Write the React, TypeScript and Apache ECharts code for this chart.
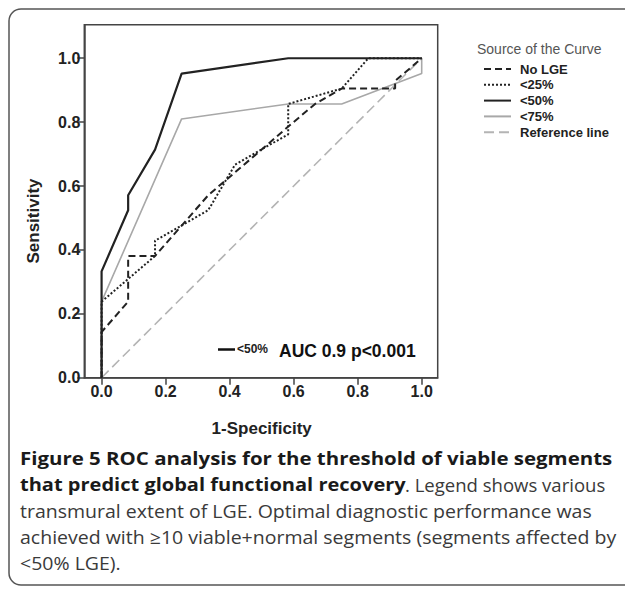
import React, { useEffect, useRef } from "react";
import * as echarts from "echarts";

// ROC data (1-Specificity, Sensitivity)
const noLgeFpr = [0, 0, 0.083, 0.083, 0.167, 0.333, 0.5, 0.583, 0.667, 0.75, 0.917, 0.917, 1];
const noLgeTpr = [0, 0.143, 0.238, 0.381, 0.381, 0.571, 0.714, 0.786, 0.857, 0.905, 0.905, 0.929, 1];

const lt25Fpr = [0, 0, 0.167, 0.167, 0.333, 0.417, 0.583, 0.583, 0.75, 0.833, 1];
const lt25Tpr = [0, 0.238, 0.381, 0.429, 0.524, 0.667, 0.762, 0.857, 0.905, 1, 1];

const lt50Fpr = [0, 0, 0.083, 0.083, 0.167, 0.25, 0.583, 1];
const lt50Tpr = [0, 0.333, 0.524, 0.571, 0.714, 0.952, 1, 1];

const lt75Fpr = [0, 0, 0.25, 0.583, 0.75, 1, 1];
const lt75Tpr = [0, 0.238, 0.81, 0.857, 0.857, 0.952, 1];

const refFpr = [0, 1];
const refTpr = [0, 1];

const tickValues = [0, 0.2, 0.4, 0.6, 0.8, 1.0];

const seriesNames = ["No LGE", "<25%", "<50%", "<75%", "Reference line"];

const zip = (xs: number[], ys: number[]) => xs.map((x, i) => [x, ys[i]]);

const SANS = '"Liberation Sans", Arial, sans-serif';
const CAP = '"Open Sans", "Noto Sans", sans-serif';

const captionParts: { x: number; y: number; bold: boolean; sx: number; text: string }[] = [
  { x: 20, y: 458, bold: true, sx: 1.136, text: "Figure 5 ROC analysis for the threshold of viable segments" },
  { x: 20, y: 484.5, bold: true, sx: 1.113, text: "that predict global functional recovery" },
  { x: 405, y: 484.5, bold: false, sx: 1.03, text: ". Legend shows various" },
  { x: 20, y: 511, bold: false, sx: 1.084, text: "transmural extent of LGE. Optimal diagnostic performance was" },
  { x: 20, y: 537, bold: false, sx: 1.084, text: "achieved with \u226510 viable+normal segments (segments affected by" },
  { x: 20, y: 563, bold: false, sx: 1.084, text: "<50% LGE)." },
];

export default function App() {
  const ref = useRef<HTMLDivElement>(null);
  useEffect(() => {
    const chart = echarts.init(ref.current as HTMLDivElement, null, {
      renderer: "svg",
      width: 625,
      height: 589,
    });
    const axisLabel = {
      customValues: tickValues,
      formatter: (v: number) => v.toFixed(1),
      fontFamily: SANS,
      fontWeight: "bold" as const,
      fontSize: 16,
      color: "#222",
    };
    const option: any = {
      animation: false,
      backgroundColor: "#fff",
      grid: {
        left: 84.3,
        top: 24.7,
        width: 353.4,
        height: 353,
        show: true,
        borderColor: "#444",
        borderWidth: 1.5,
        containLabel: false,
      },
      xAxis: {
        type: "value",
        min: -0.054,
        max: 1.05,
        axisLine: { show: true, onZero: false, lineStyle: { color: "#444", width: 1.5 } },
        axisTick: { show: true, customValues: tickValues, length: 7, lineStyle: { color: "#444", width: 1.5 } },
        axisLabel: { ...axisLabel, margin: 6 },
        splitLine: { show: false },
      },
      yAxis: {
        type: "value",
        min: 0,
        max: 1.105,
        axisLine: { show: true, onZero: false, lineStyle: { color: "#444", width: 1.5 } },
        axisTick: { show: true, customValues: tickValues, length: 7, lineStyle: { color: "#444", width: 1.5 } },
        axisLabel: { ...axisLabel, margin: 4 },
        splitLine: { show: false },
      },
      legend: {
        orient: "vertical",
        left: 483,
        top: 62,
        padding: 0,
        itemWidth: 27,
        itemHeight: 14,
        itemGap: 1.8,
        data: seriesNames,
        itemStyle: { color: "rgba(0,0,0,0)", borderWidth: 0, opacity: 0 },
        textStyle: {
          fontFamily: SANS,
          fontWeight: "bold",
          fontSize: 13,
          color: "#222",
          lineHeight: 14,
          padding: [0, 0, 0, 4],
        },
        selectedMode: false,
      },
      series: [
        {
          type: "line",
          name: "Reference line",
          data: zip(refFpr, refTpr),
          symbol: "none",
          lineStyle: { color: "#b4b4b4", width: 1.6, type: [10, 5] },
          itemStyle: { color: "#b4b4b4" },
          z: 1,
        },
        {
          type: "line",
          name: "<75%",
          data: zip(lt75Fpr, lt75Tpr),
          symbol: "none",
          lineStyle: { color: "#a8a8a8", width: 1.6 },
          itemStyle: { color: "#a8a8a8" },
          z: 2,
        },
        {
          type: "line",
          name: "No LGE",
          data: zip(noLgeFpr, noLgeTpr),
          symbol: "none",
          lineStyle: { color: "#222", width: 2, type: [7, 4] },
          itemStyle: { color: "#222" },
          z: 3,
        },
        {
          type: "line",
          name: "<25%",
          data: zip(lt25Fpr, lt25Tpr),
          symbol: "none",
          lineStyle: { color: "#222", width: 2, type: [2, 2] },
          itemStyle: { color: "#222" },
          z: 4,
        },
        {
          type: "line",
          name: "<50%",
          data: zip(lt50Fpr, lt50Tpr),
          symbol: "none",
          lineStyle: { color: "#222", width: 2.2 },
          itemStyle: { color: "#222" },
          z: 5,
        },
      ],
      graphic: [
        {
          type: "rect",
          shape: { x: 9, y: 9, width: 700, height: 576, r: 12 },
          style: { fill: "none", stroke: "#555", lineWidth: 1.5 },
          z: -10,
        },
        {
          type: "text",
          x: 33,
          y: 221,
          rotation: Math.PI / 2,
          style: {
            text: "Sensitivity",
            fontFamily: SANS,
            fontWeight: "bold",
            fontSize: 17,
            fill: "#222",
            align: "center",
            verticalAlign: "middle",
          },
        },
        {
          type: "text",
          x: 261.7,
          y: 428,
          style: {
            text: "1-Specificity",
            fontFamily: SANS,
            fontWeight: "bold",
            fontSize: 17,
            fill: "#222",
            align: "center",
            verticalAlign: "middle",
          },
        },
        {
          type: "text",
          x: 477,
          y: 49,
          style: {
            text: "Source of the Curve",
            fontFamily: SANS,
            fontSize: 14,
            fill: "#555",
            align: "left",
            verticalAlign: "middle",
          },
        },
        {
          type: "line",
          shape: { x1: 218, y1: 349.5, x2: 235, y2: 349.5 },
          style: { stroke: "#111", lineWidth: 2.5 },
        },
        {
          type: "text",
          x: 237,
          y: 349,
          style: {
            text: "<50%",
            fontFamily: SANS,
            fontWeight: "bold",
            fontSize: 12,
            fill: "#222",
            align: "left",
            verticalAlign: "middle",
          },
        },
        {
          type: "text",
          x: 279,
          y: 351,
          style: {
            text: "AUC 0.9 p<0.001",
            fontFamily: SANS,
            fontWeight: "bold",
            fontSize: 17.5,
            fill: "#111",
            align: "left",
            verticalAlign: "middle",
          },
        },
        ...captionParts.map((p) => ({
          type: "text",
          x: p.x,
          y: p.y,
          scaleX: p.sx,
          style: {
            text: p.text,
            x: 0,
            y: 0,
            align: "left",
            verticalAlign: "middle",
            fontFamily: CAP,
            fontWeight: p.bold ? "bold" : "normal",
            fontSize: 18,
            fill: p.bold ? "#1a1a1a" : "#3a3a3a",
          },
        })),
      ],
    };
    chart.setOption(option);
    return () => chart.dispose();
  }, []);
  return (
    <div
      ref={ref}
      style={{ position: "absolute", left: 0, top: 0, width: 625, height: 589, background: "#fff" }}
    />
  );
}
